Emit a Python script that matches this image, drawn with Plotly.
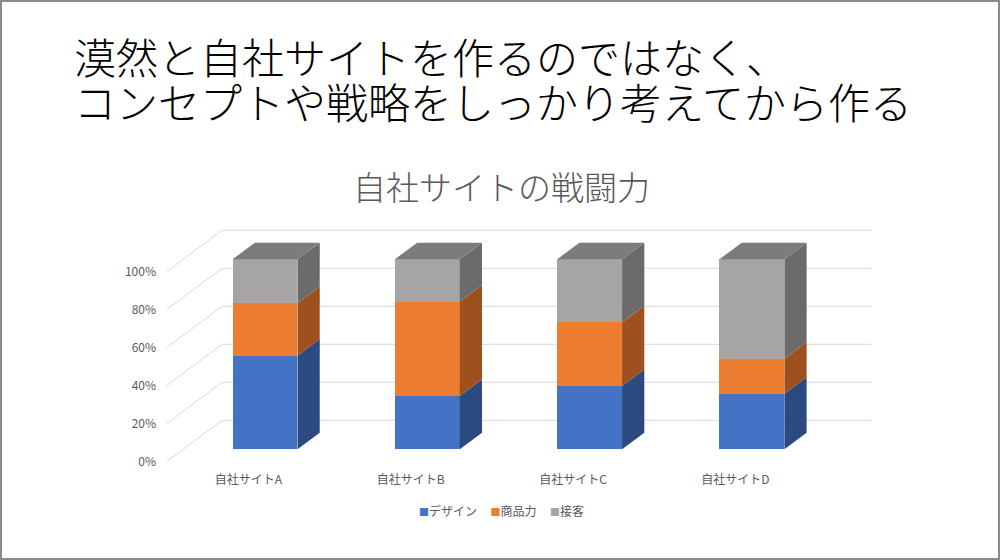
import plotly.graph_objects as go

# ---- data ----
categories = ["自社サイトA", "自社サイトB", "自社サイトC", "自社サイトD"]
series_names = ["デザイン", "商品力", "接客"]
design = [49.3, 28.1, 33.3, 29.3]
product = [27.7, 49.6, 33.5, 18.4]
service = [23.0, 22.3, 33.2, 52.3]
y_ticks = [0, 0.2, 0.4, 0.6, 0.8, 1.0]
y_ticktext = ["0%", "20%", "40%", "60%", "80%", "100%"]

front_colors = ["#4472C4", "#ED7D31", "#A5A5A5"]
side_colors = ["#2C4A80", "#9E511F", "#6B6B6B"]
top_color = "#7C7C7C"
grid_color = "#D9D9D9"
text_gray = "#595959"

W, H = 1000, 560
ML, MR, MT, MB = 162, 100, 220, 92
PW, PH = W - ML - MR, H - MT - MB

# pixel scale of the axes
X0_PX, X_STEP = 248.4, 162.3      # label-plane centre of first category, spacing
Y0_PX, Y_STEP = 461.7, 190.0      # label-plane 0%, pixels per 100%
xr = [(ML - X0_PX) / X_STEP, (ML + PW - X0_PX) / X_STEP]
yr = [(Y0_PX - (MT + PH)) / Y_STEP, (Y0_PX - MT) / Y_STEP]

SLOPE = 1.34  # horizontal px per vertical px of depth
def depth(dpx):
    return dpx * SLOPE / X_STEP, dpx / Y_STEP

fx, fy = depth(12.4)    # bar front plane
bx, by = depth(16.6)    # bar depth
wx, wy = depth(41.4)    # back wall
half_w = 0.2

def paper_x(px):
    return (px - ML) / PW
def paper_y(py):
    return (MT + PH - py) / PH

series = [design, product, service]
totals = [sum(v) for v in zip(*series)]
fracs = [[v / t for v, t in zip(s, totals)] for s in series]

fig = go.Figure()
shapes = []

# gridlines: side-wall diagonals + back wall horizontals
grid_left = (166.7 - X0_PX) / X_STEP
grid_right = (871.7 - X0_PX) / X_STEP
for v in y_ticks:
    shapes.append(dict(type="line", xref="x", yref="y", layer="below",
                       x0=grid_left, y0=v, x1=grid_left + wx, y1=v + wy,
                       line=dict(color=grid_color, width=1)))
    shapes.append(dict(type="line", xref="x", yref="y", layer="below",
                       x0=grid_left + wx, y0=v + wy, x1=grid_right, y1=v + wy,
                       line=dict(color=grid_color, width=1)))

xs = list(range(len(categories)))
cum = [0.0] * len(categories)
for k, (name, fr) in enumerate(zip(series_names, fracs)):
    fig.add_trace(go.Bar(
        x=[i + fx for i in xs], y=fr, base=[c + fy for c in cum], width=2 * half_w,
        marker=dict(color=front_colors[k], line=dict(width=0)),
        name=name, showlegend=False, hoverinfo="skip"))
    for i in xs:
        x_r = i + fx + half_w
        y0 = cum[i] + fy
        y1 = cum[i] + fr[i] + fy
        shapes.append(dict(type="path", xref="x", yref="y", layer="above",
                           path=f"M{x_r},{y0} L{x_r + bx},{y0 + by} L{x_r + bx},{y1 + by} L{x_r},{y1} Z",
                           fillcolor=side_colors[k], line=dict(width=0)))
    cum = [c + f for c, f in zip(cum, fr)]

# top faces
for i in xs:
    x_l = i + fx - half_w
    x_r = i + fx + half_w
    yt = cum[i] + fy
    shapes.append(dict(type="path", xref="x", yref="y", layer="above",
                       path=f"M{x_l},{yt} L{x_r},{yt} L{x_r + bx},{yt + by} L{x_l + bx},{yt + by} Z",
                       fillcolor=top_color, line=dict(width=0)))

# slide border
shapes.append(dict(type="rect", xref="paper", yref="paper",
                   x0=paper_x(1), x1=paper_x(999), y0=paper_y(1), y1=paper_y(559),
                   line=dict(color="#8C8C8C", width=2), fillcolor="rgba(0,0,0,0)"))

font_family = "Noto Sans CJK JP"

# compact legend (coloured squares + series names)
legend_text = "&nbsp;&nbsp;&nbsp;&nbsp;&nbsp;".join(
    f"<span style='color:{c};font-size:10px'>■</span>{n}"
    for c, n in zip(front_colors, series_names))

annotations = [
    dict(text="漠然と自社サイトを作るのではなく、", xref="paper", yref="paper",
         x=paper_x(72), y=paper_y(55), xanchor="left", yanchor="middle", showarrow=False,
         font=dict(family=font_family, size=42, color="#000000", weight=300)),
    dict(text="コンセプトや戦略をしっかり考えてから作る", xref="paper", yref="paper",
         x=paper_x(72), y=paper_y(100), xanchor="left", yanchor="middle", showarrow=False,
         font=dict(family=font_family, size=42, color="#000000", weight=300)),
    dict(text="自社サイトの戦闘力", xref="paper", yref="paper",
         x=paper_x(501), y=paper_y(186), xanchor="center", yanchor="middle", showarrow=False,
         font=dict(family=font_family, size=33, color=text_gray, weight=300)),
    dict(text=legend_text, xref="paper", yref="paper",
         x=paper_x(501), y=paper_y(510), xanchor="center", yanchor="middle", showarrow=False,
         font=dict(family=font_family, size=12, color=text_gray)),
]

fig.update_layout(
    width=W, height=H, margin=dict(l=ML, r=MR, t=MT, b=MB),
    paper_bgcolor="white", plot_bgcolor="white",
    barmode="overlay", bargap=0,
    font=dict(family=font_family, size=12, color=text_gray),
    shapes=shapes, annotations=annotations,
    xaxis=dict(range=xr, tickvals=xs, ticktext=categories, showgrid=False,
               zeroline=False, showline=False, ticks="", fixedrange=True,
               ticklabelstandoff=3,
               tickfont=dict(size=12, color=text_gray)),
    yaxis=dict(range=yr, tickvals=y_ticks, ticktext=y_ticktext, showgrid=False,
               zeroline=False, showline=False, ticks="", fixedrange=True,
               ticklabelstandoff=5,
               tickfont=dict(size=12, color=text_gray)),
    showlegend=False,
)

fig.write_html("out.html", config={"displayModeBar": False},
               post_script="document.body.style.margin='0';document.body.style.overflow='hidden';")
